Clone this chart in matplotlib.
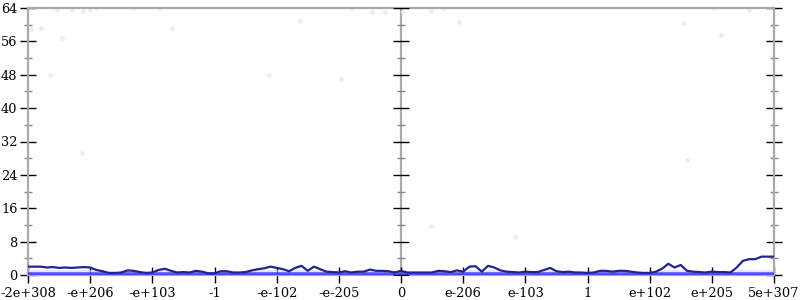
import numpy as np
import matplotlib
matplotlib.use("Agg")
import matplotlib.pyplot as plt

# Etiquetas del eje x (escala simétrica de dobles)
x_labels = ["-2e+308", "-e+206", "-e+103", "-1", "-e-102", "-e-205", "0",
            "e-206", "e-103", "1", "e+102", "e+205", "5e+307"]
y_ticks = [0, 8, 16, 24, 32, 40, 48, 56, 64]

# Línea principal, una muestra cada 0.1 unidades de tick
line_vals = [2.0, 2.0, 2.0, 1.8, 1.9, 1.7, 1.8, 1.7, 1.8, 1.9,
             1.8, 1.2, 0.9, 0.5, 0.5, 0.6, 1.1, 1.0, 0.7, 0.5,
             0.6, 1.2, 1.5, 1.0, 0.6, 0.7, 0.6, 1.0, 0.8, 0.4,
             0.4, 0.9, 0.9, 0.6, 0.6, 0.7, 1.1, 1.4, 1.6, 2.0,
             1.7, 1.4, 0.9, 1.7, 2.2, 1.0, 2.0, 1.4, 0.8, 0.7,
             0.6, 0.9, 0.6, 0.8, 0.8, 1.3, 1.0, 1.0, 0.9, 0.6,
             1.0, 0.6, 0.6, 0.6, 0.6, 0.6, 1.0, 0.9, 0.7, 1.1,
             0.8, 2.0, 2.1, 0.8, 2.2, 1.8, 1.1, 0.8, 0.7, 0.6,
             0.8, 0.7, 0.7, 1.2, 1.7, 0.9, 0.7, 0.8, 0.6, 0.6,
             0.5, 0.6, 1.0, 1.0, 0.8, 1.0, 1.0, 0.8, 0.6, 0.5,
             0.5, 0.8, 1.5, 2.7, 1.8, 2.4, 1.0, 0.8, 0.7, 0.6,
             0.8, 0.7, 0.7, 0.6, 1.8, 3.4, 3.8, 3.8, 4.4, 4.4,
             4.4]
line_x = np.arange(len(line_vals)) * 0.1

# Puntos dispersos (tenues)
pts_x = [0.47, 0.71, 0.89, 1.0, 1.1, 0.05, 0.21, 0.55, 0.35, 0.87,
         2.32, 1.7, 2.1, 3.87, 4.38, 5.19, 5.54, 5.75, 6.04, 6.48,
         6.67, 6.93, 5.03, 10.55, 11.02, 11.6, 11.15, 7.84, 6.48, 10.6]
pts_y = [63.5, 63.5, 63.3, 63.5, 64, 59, 59.2, 56.8, 48, 29.3,
         59.2, 64, 64, 48, 61, 64, 63, 63, 63, 63.3,
         64, 60.7, 47, 60.4, 64, 63.5, 57.5, 9.1, 11.7, 27.6]

# Banda de ceros
zero_x = [0, 12]
zero_y = [0, 0]

plt.rcParams['font.family'] = 'DejaVu Serif'
fig = plt.figure(figsize=(8, 3), dpi=100)
ax = fig.add_axes([28/800, 25/300, 746/800, 267/300])

gray = "#aaaaaa"
ax.scatter(pts_x, pts_y, s=12, color="#ececf8", zorder=1, linewidths=0)
# bruma clara cerca de cero
ax.fill_between(line_x, 0, np.minimum(line_vals, 1.3), color="#d4d4f6",
                alpha=0.6, lw=0, zorder=2)
ax.plot(zero_x, zero_y, color="#3a3aff", lw=4, alpha=0.85, zorder=3,
        solid_capstyle="butt")
ax.plot(line_x, line_vals, color="#23238f", lw=1.6, zorder=4)

# Eje central
ax.axvline(6, color=gray, lw=1.6, zorder=0)
minor = [4, 12, 20, 28, 36, 44, 52, 60]
ax.plot([6]*len(y_ticks), y_ticks, ls="none", marker="_", ms=11, mew=1,
        color="k", zorder=5)
ax.plot([6]*len(minor), minor, ls="none", marker="_", ms=6, mew=1,
        color="#888888", zorder=5)

ax.set_xlim(0, 12)
ax.set_ylim(0, 64)
ax.set_xticks(range(13))
ax.set_xticklabels(x_labels)
ax.set_yticks(y_ticks)
ax.set_yticks(minor, minor=True)

for s in ax.spines.values():
    s.set_color(gray)
    s.set_linewidth(1.6)

ax.tick_params(axis="both", which="major", direction="inout", length=11,
               width=1, color="k", labelsize=9.3, pad=2)
ax.tick_params(axis="y", which="major", right=True)
ax.tick_params(axis="y", which="minor", direction="inout", length=6,
               width=1, color="#888888", right=True)
ax.tick_params(axis="x", pad=3)

plt.savefig("out.png", dpi=100)
plt.close()
